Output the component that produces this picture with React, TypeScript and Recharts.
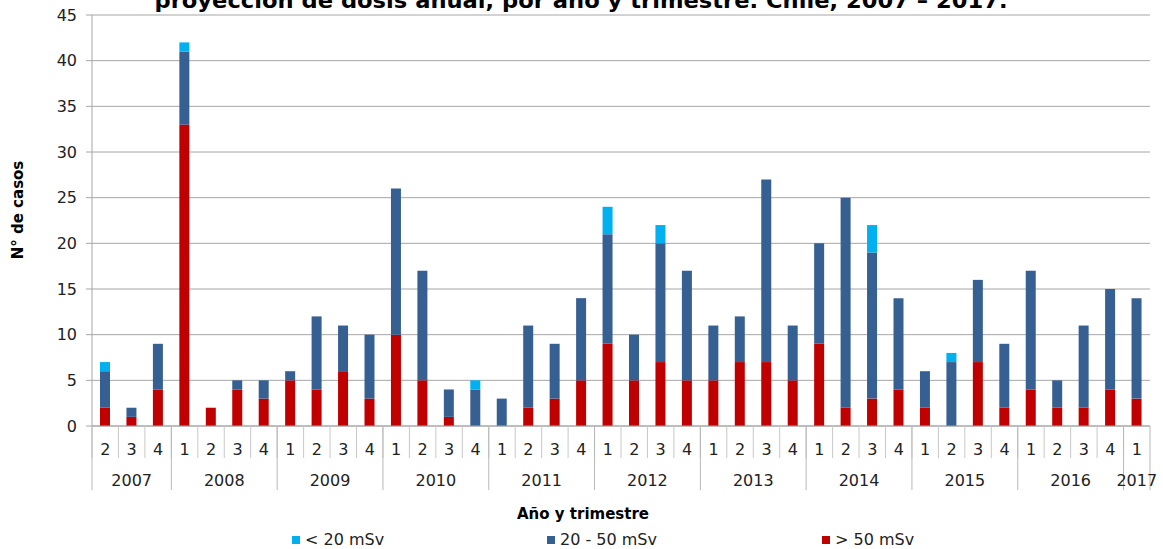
import React from 'react';
import { BarChart, Bar, XAxis, YAxis, CartesianGrid } from 'recharts';

// trimestres 2007-T2 .. 2017-T1
const years = [
  2007, 2007, 2007,
  2008, 2008, 2008, 2008,
  2009, 2009, 2009, 2009,
  2010, 2010, 2010, 2010,
  2011, 2011, 2011, 2011,
  2012, 2012, 2012, 2012,
  2013, 2013, 2013, 2013,
  2014, 2014, 2014, 2014,
  2015, 2015, 2015, 2015,
  2016, 2016, 2016, 2016,
  2017,
];
const quarters = [
  2, 3, 4,
  1, 2, 3, 4,
  1, 2, 3, 4,
  1, 2, 3, 4,
  1, 2, 3, 4,
  1, 2, 3, 4,
  1, 2, 3, 4,
  1, 2, 3, 4,
  1, 2, 3, 4,
  1, 2, 3, 4,
  1,
];

// > 50 mSv
const over50 = [
  2, 1, 4,
  33, 2, 4, 3,
  5, 4, 6, 3,
  10, 5, 1, 0,
  0, 2, 3, 5,
  9, 5, 7, 5,
  5, 7, 7, 5,
  9, 2, 3, 4,
  2, 0, 7, 2,
  4, 2, 2, 4,
  3,
];
// 20 - 50 mSv
const from20to50 = [
  4, 1, 5,
  8, 0, 1, 2,
  1, 8, 5, 7,
  16, 12, 3, 4,
  3, 9, 6, 9,
  12, 5, 13, 12,
  6, 5, 20, 6,
  11, 23, 16, 10,
  4, 7, 9, 7,
  13, 3, 9, 11,
  11,
];
// < 20 mSv
const under20 = [
  1, 0, 0,
  1, 0, 0, 0,
  0, 0, 0, 0,
  0, 0, 0, 1,
  0, 0, 0, 0,
  3, 0, 2, 0,
  0, 0, 0, 0,
  0, 0, 3, 0,
  0, 1, 0, 0,
  0, 0, 0, 0,
  0,
];

const yTicks = [0, 5, 10, 15, 20, 25, 30, 35, 40, 45];

const COLORS = { low: '#00B0F0', mid: '#376092', high: '#C00000' };
const FONT = '"DejaVu Sans", Verdana, sans-serif';

const W = 1163;
const H = 549;
const PLOT_LEFT = 92;
const PLOT_RIGHT = 1150;
const PLOT_BOTTOM = 426;
const BAND = (PLOT_RIGHT - PLOT_LEFT) / years.length;

const data = years.map((y, i) => ({
  id: `${y}-${quarters[i]}`,
  year: y,
  q: quarters[i],
  high: over50[i],
  mid: from20to50[i],
  low: under20[i],
}));

// etiqueta de trimestre + separador
function QuarterTick(props: any) {
  const { x, index } = props;
  const left = x - BAND / 2;
  return (
    <g>
      <line x1={left} x2={left} y1={PLOT_BOTTOM} y2={458} stroke="#c8c8c8" />
      <text x={x} y={455} textAnchor="middle" fontFamily={FONT} fontSize={16} fill="#222">
        {quarters[index]}
      </text>
    </g>
  );
}

// etiqueta de año centrada en su grupo + separadores
function YearTick(props: any) {
  const { x, index } = props;
  const y = years[index];
  const first = years.indexOf(y);
  const last = years.lastIndexOf(y);
  const isFirst = index === first;
  const isLast = index === years.length - 1;
  const center = PLOT_LEFT + ((first + last + 1) / 2) * BAND;
  return (
    <g>
      {isFirst && (
        <line x1={x - BAND / 2} x2={x - BAND / 2} y1={PLOT_BOTTOM} y2={490} stroke="#b8b8b8" />
      )}
      {isLast && (
        <line x1={x + BAND / 2} x2={x + BAND / 2} y1={PLOT_BOTTOM} y2={490} stroke="#b8b8b8" />
      )}
      {isFirst && (
        <text x={center} y={486} textAnchor="middle" fontFamily={FONT} fontSize={16} fill="#222">
          {y}
        </text>
      )}
    </g>
  );
}

const legendItems = [
  { label: '< 20 mSv', color: COLORS.low, left: 292 },
  { label: '20 - 50 mSv', color: COLORS.mid, left: 547 },
  { label: '> 50 mSv', color: COLORS.high, left: 822 },
];

export default function App() {
  return (
    <div style={{ position: 'absolute', left: 0, top: 0, width: W, height: H, background: '#fff', fontFamily: FONT }}>
      <BarChart
        width={W}
        height={H}
        data={data}
        margin={{ top: 15, right: W - PLOT_RIGHT, left: 8, bottom: H - PLOT_BOTTOM - 64 }}
      >
        {/* título: en la imagen original queda recortado por arriba */}
        <text
          x={581}
          y={8}
          textAnchor="middle"
          fontFamily={FONT}
          fontWeight="bold"
          fontSize={22}
          textLength={853}
          lengthAdjust="spacingAndGlyphs"
          fill="#000"
        >
          proyección de dosis anual, por año y trimestre. Chile, 2007 – 2017.
        </text>
        <CartesianGrid vertical={false} stroke="#a6a6a6" />
        <XAxis
          xAxisId="q"
          dataKey="id"
          interval={0}
          height={32}
          tickLine={false}
          axisLine={{ stroke: '#a6a6a6' }}
          tick={<QuarterTick />}
        />
        <XAxis
          xAxisId="year"
          dataKey="id"
          interval={0}
          height={32}
          tickLine={false}
          axisLine={false}
          tick={<YearTick />}
        />
        <YAxis
          width={84}
          domain={[0, 45]}
          ticks={yTicks}
          interval={0}
          tickSize={6}
          tickMargin={9}
          tickLine={{ stroke: '#a6a6a6' }}
          axisLine={{ stroke: '#a6a6a6' }}
          tick={{ fontFamily: FONT, fontSize: 16, fill: '#222' }}
        />
        <Bar xAxisId="q" dataKey="high" stackId="a" fill={COLORS.high} barSize={10} isAnimationActive={false} />
        <Bar xAxisId="q" dataKey="mid" stackId="a" fill={COLORS.mid} barSize={10} isAnimationActive={false} />
        <Bar xAxisId="q" dataKey="low" stackId="a" fill={COLORS.low} barSize={10} isAnimationActive={false} />
      </BarChart>

      <div
        style={{
          position: 'absolute',
          left: 18,
          top: 210,
          transform: 'translate(-50%, -50%) rotate(-90deg)',
          fontWeight: 'bold',
          fontSize: 15,
          whiteSpace: 'nowrap',
          color: '#000',
        }}
      >
        N° de casos
      </div>

      <div
        style={{
          position: 'absolute',
          left: 583,
          top: 505,
          transform: 'translateX(-50%)',
          fontWeight: 'bold',
          fontSize: 15,
          whiteSpace: 'nowrap',
          color: '#000',
        }}
      >
        Año y trimestre
      </div>

      {legendItems.map((it) => (
        <div
          key={it.label}
          style={{
            position: 'absolute',
            left: it.left,
            top: 530,
            display: 'flex',
            alignItems: 'center',
            fontSize: 16,
            color: '#222',
            whiteSpace: 'nowrap',
          }}
        >
          <span style={{ display: 'inline-block', width: 8, height: 8, background: it.color, marginRight: 5 }} />
          {it.label}
        </div>
      ))}
    </div>
  );
}
